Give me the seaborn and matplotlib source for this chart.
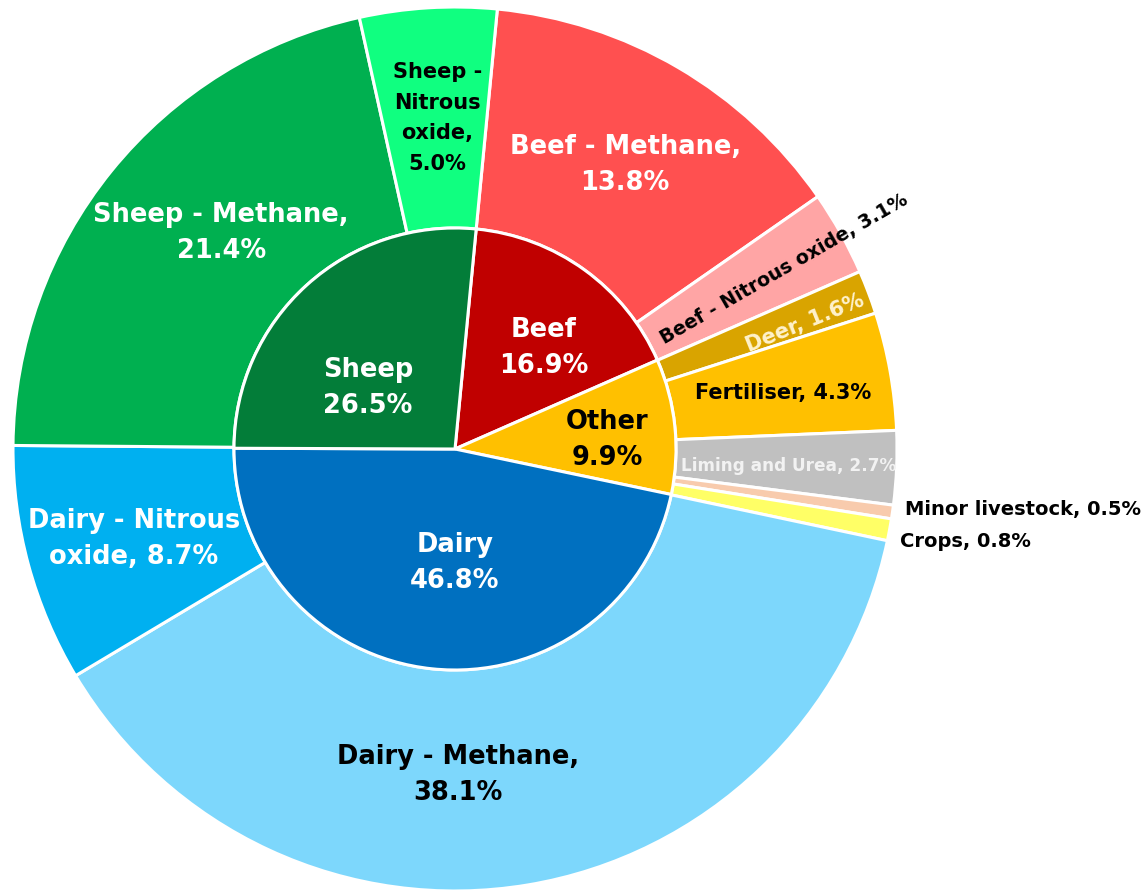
import numpy as np
import matplotlib
matplotlib.use("Agg")
import matplotlib.pyplot as plt
import seaborn as sns

# inner ring (sector totals, %)
inner_labels = ["Beef", "Other", "Dairy", "Sheep"]
inner_values = [16.9, 9.9, 46.8, 26.5]
inner_colors = ["#C00000", "#FFC000", "#0070C0", "#037D39"]

# outer ring (gas / source split, %)
outer_labels = ["Beef - Methane", "Beef - Nitrous oxide", "Deer", "Fertiliser",
                "Liming and Urea", "Minor livestock", "Crops", "Dairy - Methane",
                "Dairy - Nitrous oxide", "Sheep - Methane", "Sheep - Nitrous oxide"]
outer_values = [13.8, 3.1, 1.6, 4.3, 2.7, 0.5, 0.8, 38.1, 8.7, 21.4, 5.0]
outer_colors = ["#FF5050", "#FFA5A5", "#D9A400", "#FFC000", "#C0C0C0", "#F8CBAD",
                "#FFFF66", "#7DD7FC", "#00B0F0", "#00B050", "#10FF80"]

sns.set_theme(style="white")
plt.rcParams["font.family"] = ["DejaVu Sans"]

fig = plt.figure(figsize=(11.46, 8.92), dpi=100)
ax = fig.add_axes([0, 0, 1, 1])

wedge_kw = dict(edgecolor="white", linewidth=2.2)
ax.pie(outer_values, radius=1.0, colors=outer_colors, startangle=84.5,
       counterclock=False, wedgeprops=dict(width=0.5, **wedge_kw))
ax.pie(inner_values, radius=0.5, colors=inner_colors, startangle=84.5,
       counterclock=False, wedgeprops=wedge_kw)

big = 18.5
ls = 1.5

def pct(v):
    return f"{v:.1f}%"

def label(x, y, s, color="black", size=big, **kw):
    ax.text(x, y, s, color=color, fontsize=size, fontweight="bold",
            ha=kw.pop("ha", "center"), va="center", linespacing=kw.pop("linespacing", ls), **kw)

# outer labels
label(-0.529, 0.489, f"Sheep - Methane,\n{pct(outer_values[9])}", "white")
label(-0.040, 0.749, f"Sheep -\nNitrous\noxide,\n{pct(outer_values[10])}", size=15,
      linespacing=1.65)
label(0.385, 0.643, f"Beef - Methane,\n{pct(outer_values[0])}", "white")
label(0.744, 0.407, f"Beef - Nitrous oxide, {pct(outer_values[1])}", size=13.8,
      rotation=30, rotation_mode="anchor")
label(0.792, 0.285, f"Deer, {pct(outer_values[2])}", "#FFF2CC", size=15,
      rotation=22, rotation_mode="anchor")
label(0.742, 0.127, f"Fertiliser, {pct(outer_values[3])}", size=15)
label(0.755, -0.038, f"Liming and Urea, {pct(outer_values[4])}", "#F2F2F2", size=12.2)
label(1.018, -0.138, f"Minor livestock, {pct(outer_values[5])}", size=14, ha="left")
label(1.007, -0.210, f"Crops, {pct(outer_values[6])}", size=14, ha="left")
label(-0.726, -0.204, f"Dairy - Nitrous\noxide, {pct(outer_values[8])}", "white")
label(0.007, -0.738, f"Dairy - Methane,\n{pct(outer_values[7])}")

# inner labels
inner_pos = {"Sheep": (-0.197, 0.138), "Beef": (0.201, 0.229),
             "Other": (0.344, 0.020), "Dairy": (0.0, -0.258)}
for lab, val in zip(inner_labels, inner_values):
    x, y = inner_pos[lab]
    label(x, y, f"{lab}\n{pct(val)}", "black" if lab == "Other" else "white")

ax.set_xlim(-455 / 442, (1146 - 455) / 442)
ax.set_ylim(-(892 - 449) / 442, 449 / 442)
ax.set_aspect("equal", adjustable="datalim")
ax.axis("off")

fig.savefig("out.png", dpi=100, facecolor="white")
